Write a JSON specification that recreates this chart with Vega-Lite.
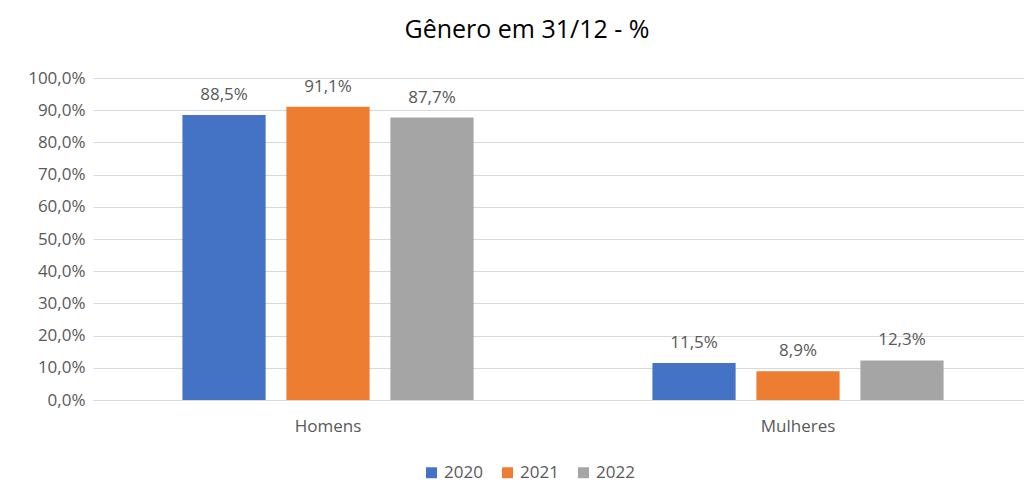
{
  "$schema": "https://vega.github.io/schema/vega-lite/v6.json",
  "autosize": {"type": "none"},
  "padding": {"left": 93, "top": 78, "right": 0, "bottom": 85},
  "width": 940,
  "height": 322,
  "background": "white",
  "config": {
    "locale": {"number": {"decimal": ",", "thousands": ".", "grouping": [3], "currency": ["R$", ""]}},
    "font": "Open Sans",
    "view": {"stroke": null}
  },
  "title": {"text": "Gênero em 31/12 - %", "fontSize": 25, "font": "Open Sans", "fontWeight": "normal", "color": "#000000", "anchor": "middle", "dx": -36, "offset": 26},
  "data": {
    "values": [
      {"genero": "Homens", "ano": "2020", "valor": 0.885},
      {"genero": "Homens", "ano": "2021", "valor": 0.911},
      {"genero": "Homens", "ano": "2022", "valor": 0.877},
      {"genero": "Mulheres", "ano": "2020", "valor": 0.115},
      {"genero": "Mulheres", "ano": "2021", "valor": 0.089},
      {"genero": "Mulheres", "ano": "2022", "valor": 0.123}
    ]
  },
  "encoding": {
    "x": {"field": "genero", "type": "nominal", "scale": {"paddingInner": 0, "paddingOuter": 0},
      "axis": {"title": null, "labelAngle": 0, "labelFontSize": 17, "labelColor": "#595959", "ticks": false, "domainColor": "#D9D9D9", "labelPadding": 18, "grid": false}},
    "xOffset": {"field": "ano", "type": "nominal", "scale": {"paddingInner": 0.2, "paddingOuter": 0.86}},
    "y": {"field": "valor", "type": "quantitative", "scale": {"domain": [0, 1]},
      "axis": {"title": null, "format": ".1%", "values": [0,0.1,0.2,0.3,0.4,0.5,0.6,0.7,0.8,0.9,1.0], "labelOverlap": false, "labelFontSize": 17, "labelColor": "#595959", "ticks": false, "domain": false, "gridColor": "#D9D9D9", "labelPadding": 8}}
  },
  "layer": [
    {
      "mark": {"type": "bar"},
      "encoding": {
        "color": {"field": "ano", "type": "nominal", "scale": {"range": ["#4472C4", "#ED7D31", "#A5A5A5"]},
          "legend": {"title": null, "orient": "none", "legendX": 330, "legendY": 386, "direction": "horizontal", "symbolType": "square", "symbolSize": 120, "labelFontSize": 17, "labelColor": "#595959", "columnPadding": 16, "symbolStrokeWidth": 0, "labelOffset": 4}}
      }
    },
    {
      "mark": {"type": "text", "baseline": "bottom", "dy": -11, "fontSize": 17, "color": "#595959"},
      "encoding": {"text": {"field": "valor", "type": "quantitative", "format": ".1%"}}
    }
  ]
}
